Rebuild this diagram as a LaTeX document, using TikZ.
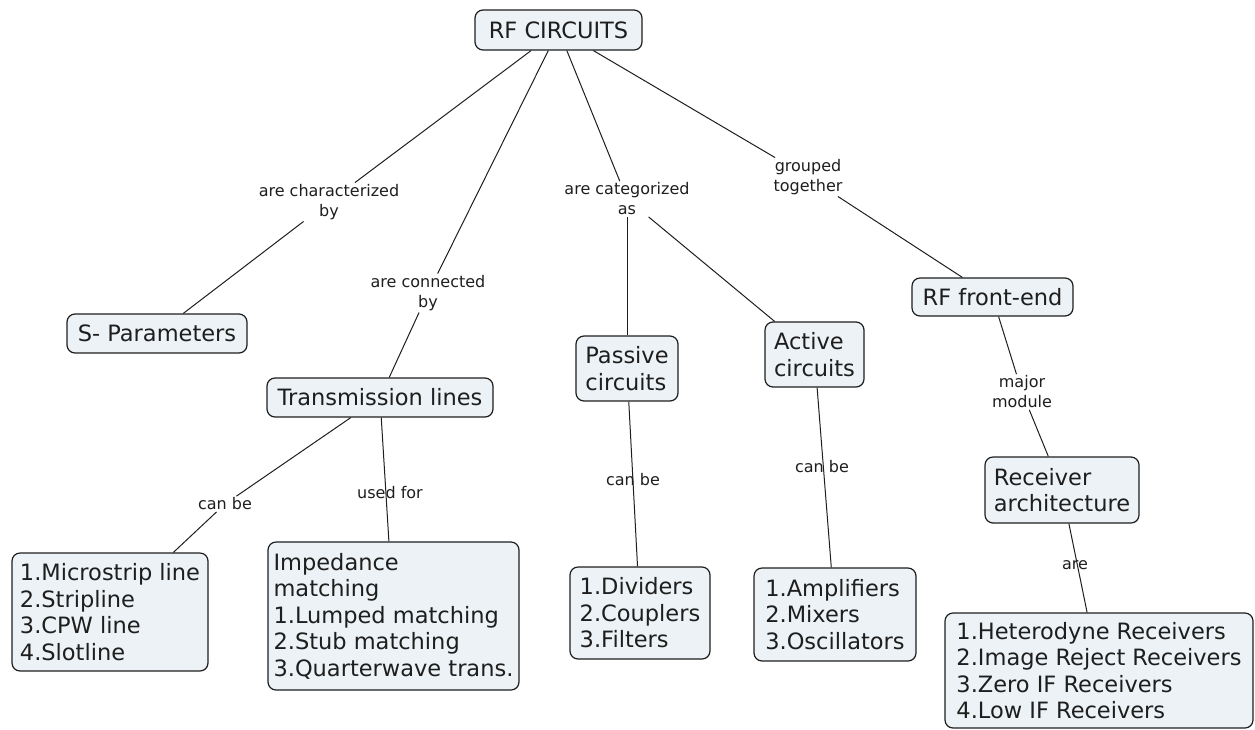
\documentclass[tikz,border=0pt]{standalone}
\usepackage{fontspec}
\setmainfont{DejaVu Sans}
\definecolor{boxfill}{RGB}{236,242,245}
\definecolor{ink}{RGB}{30,30,30}
\begin{document}
\begin{tikzpicture}[x=1pt,y=-1pt,
  concept/.style={draw=ink, line width=1.2pt, fill=boxfill, rounded corners=8pt,
    align=left, text=ink, inner sep=0pt, font=\fontsize{22.5}{26.5}\selectfont},
  linktext/.style={font=\fontsize{16}{20}\selectfont, align=center, text=ink, inner sep=1.5pt},
  conn/.style={draw=ink, line width=1pt}]
\useasboundingbox (0,0) rectangle (1255,729);

% concepts
\node[concept, minimum width=167pt, minimum height=40pt] (rf) at (558.5,30) {RF CIRCUITS};
\node[concept, minimum width=180pt, minimum height=39pt] (sp) at (157,333.5) {S- Parameters};
\node[concept, minimum width=226pt, minimum height=39pt] (tl) at (380,397.5) {Transmission lines};
\node[concept, minimum width=102pt, minimum height=65pt] (pas) at (627,368.5) {Passive\\circuits};
\node[concept, minimum width=99pt, minimum height=65pt] (act) at (814.5,354.5) {Active\\circuits};
\node[concept, minimum width=161pt, minimum height=38pt] (fe) at (992.5,297) {RF front-end};
\node[concept, minimum width=154pt, minimum height=66pt] (rec) at (1062,490) {Receiver\\architecture};
\node[concept, minimum width=196pt, minimum height=118pt] (ms) at (110,612) {1.Microstrip line\\2.Stripline\\3.CPW line\\4.Slotline};
\node[concept, minimum width=251pt, minimum height=148pt] (imp) at (393.5,616) {Impedance\\matching\\1.Lumped matching\\2.Stub matching\\3.Quarterwave trans.};
\node[concept, minimum width=140pt, minimum height=92pt] (div) at (640,613) {1.Dividers\\2.Couplers\\3.Filters};
\node[concept, minimum width=162pt, minimum height=93pt] (amp) at (835,614.5) {1.Amplifiers\\2.Mixers\\3.Oscillators};
\node[concept, minimum width=308pt, minimum height=115pt] (het) at (1099,670.5) {1.Heterodyne Receivers\\2.Image Reject Receivers\\3.Zero IF Receivers\\4.Low IF Receivers};

% linking phrases
\node[linktext] (l1) at (329,202) {are characterized\\by};
\node[linktext] (l2) at (428,293) {are connected\\by};
\node[linktext] (l3) at (627,199) {are categorized\\as};
\node[linktext] (l4) at (808,177) {grouped\\together};
\node[linktext] (l5) at (225,504) {can be};
\node[linktext] (l6) at (390,493) {used for};
\node[linktext] (l7) at (633,480) {can be};
\node[linktext] (l8) at (822,467) {can be};
\node[linktext] (l9) at (1022,392) {major\\module};
\node[linktext] (l10) at (1075,565) {are};

% connectors broken by their phrase
\draw[conn] (rf) -- (l1);
\draw[conn] (l1) -- (sp);
\draw[conn] (rf) -- (l2);
\draw[conn] (l2) -- (tl);
\draw[conn] (rf) -- (l3);
\draw[conn] (l3) -- (pas);
\draw[conn] (l3) -- (act);
\draw[conn] (rf) -- (l4);
\draw[conn] (l4) -- (fe);
\draw[conn] (fe) -- (l9);
\draw[conn] (l9) -- (rec);
\draw[conn] (tl) -- (l5);
\draw[conn] (l5) -- (ms);

% connectors running straight through their phrase
\draw[conn] (tl) -- (imp);
\draw[conn] (pas) -- (div);
\draw[conn] (act) -- (amp);
\draw[conn] (rec) -- (het);
\end{tikzpicture}
\end{document}
